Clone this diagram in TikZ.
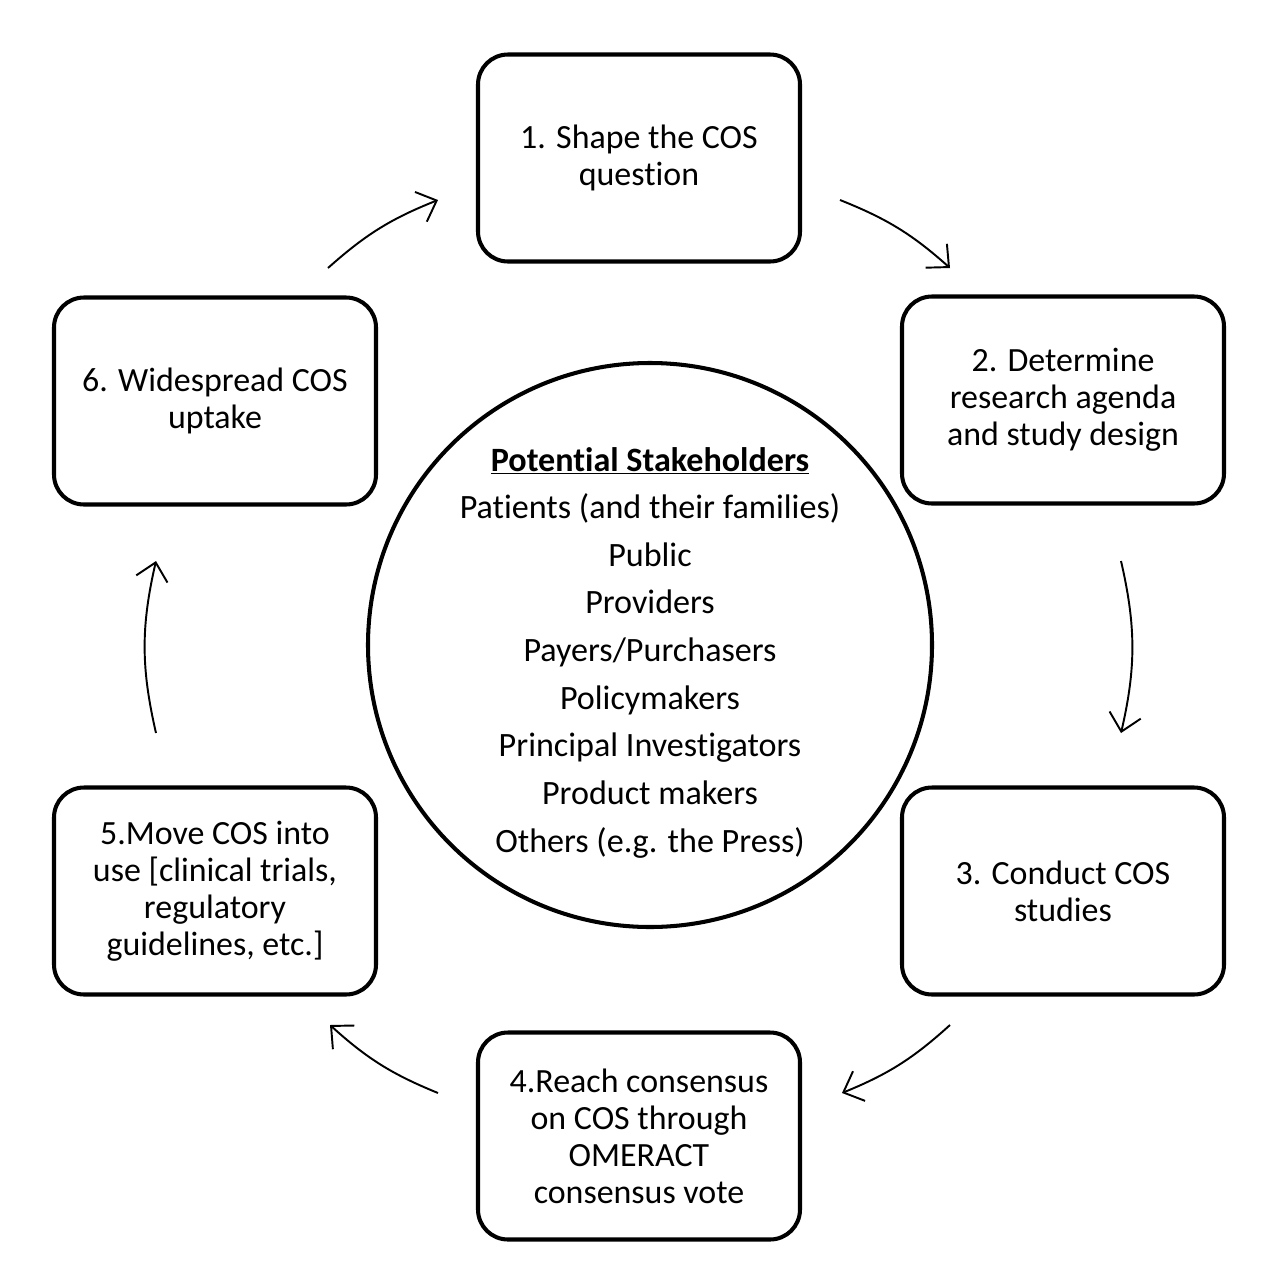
\documentclass[tikz,border=0pt]{standalone}
\usepackage{fontspec}
\setmainfont{Carlito}[Ligatures=NoCommon]
\usepackage{tikz}
\usetikzlibrary{positioning,arrows.meta}

\begin{document}
\begin{tikzpicture}[
  stage/.style = {
    draw,
    rounded corners = 0.6cm,
    line width = 2.3pt,
    fill = white,
    minimum width = 6.44cm,
    minimum height = 4.14cm,
    align = center,
    font = \fontsize{19.3}{21.1}\selectfont,
  },
  hub/.style = {
    draw,
    circle,
    line width = 2.3pt,
    inner sep = 0pt,
    minimum size = 11.28cm,
  },
  who/.style = {
    align = center,
    font = \fontsize{19.4}{27.1}\selectfont,
  },
  cycle/.style = {->, line width = 1.1pt},
  >={Straight Barb[length=3.4mm,width=6.4mm]},
]

  \useasboundingbox (0,0) rectangle (25.32,-25.6);

  \node[hub] (hub) at (13.0,-12.9) {};
  \node[who] (whol) [below=0.15cm of hub.center, anchor=center] {\underline{\textbf{Potential Stakeholders}}\\
    Patients (and their families)\\ Public\\ Providers\\ Payers/Purchasers\\
    Policymakers\\ Principal Investigators\\ Product makers\\ Others (e.g. the Press)};

  \node[stage] (s1) at (12.78,-3.16) {1. Shape the COS\\question};
  \node[stage] (s2) at (21.26,-8.0) {2. Determine\\research agenda\\and study design};
  \node[stage] (s3) at (21.26,-17.82) {3. Conduct COS\\studies};
  \node[stage] (s4) at (12.78,-22.72) {4.Reach consensus\\on COS through\\OMERACT\\consensus vote};
  \node[stage] (s5) at (4.3,-17.82) {5.Move COS into\\use [clinical trials,\\regulatory\\guidelines, etc.]};
  \node[stage] (s6) at (4.3,-8.02) {6. Widespread COS\\uptake};

  % arrow ends between the stages
  \coordinate (a12s) at (16.8,-4.0);   \coordinate (a12e) at (19.0,-5.36);
  \coordinate (a23s) at (22.42,-11.22); \coordinate (a23e) at (22.42,-14.66);
  \coordinate (a34s) at (19.0,-20.5);  \coordinate (a34e) at (16.84,-21.86);
  \coordinate (a45s) at (8.76,-21.86); \coordinate (a45e) at (6.6,-20.5);
  \coordinate (a56s) at (3.12,-14.66); \coordinate (a56e) at (3.12,-11.22);
  \coordinate (a61s) at (6.56,-5.36);  \coordinate (a61e) at (8.76,-4.0);

  \draw[cycle] (a12s) to[bend left=10] (a12e);
  \draw[cycle] (a23s) to[bend left=13] (a23e);
  \draw[cycle] (a34s) to[bend left=10] (a34e);
  \draw[cycle] (a45s) to[bend left=10] (a45e);
  \draw[cycle] (a56s) to[bend left=13] (a56e);
  \draw[cycle] (a61s) to[bend left=10] (a61e);
\end{tikzpicture}
\end{document}
